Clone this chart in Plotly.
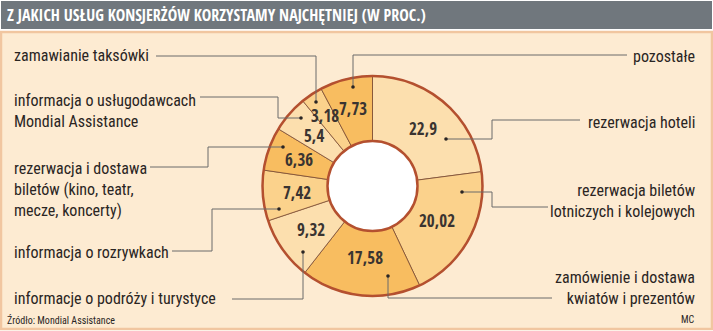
import math
import plotly.graph_objects as go

# ---------------- data ----------------
categories = [
    "rezerwacja hoteli",
    "rezerwacja biletów lotniczych i kolejowych",
    "zamówienie i dostawa kwiatów i prezentów",
    "informacje o podróży i turystyce",
    "informacja o rozrywkach",
    "rezerwacja i dostawa biletów (kino, teatr, mecze, koncerty)",
    "informacja o usługodawcach Mondial Assistance",
    "zamawianie taksówki",
    "pozostałe",
]
values = [22.9, 20.02, 17.58, 9.32, 7.42, 6.36, 5.4, 3.18, 7.73]
display_labels = [
    "rezerwacja hoteli",
    "rezerwacja biletów<br>lotniczych i kolejowych",
    "zamówienie i dostawa<br>kwiatów i prezentów",
    "informacje o podróży i turystyce",
    "informacja o rozrywkach",
    "rezerwacja i dostawa<br>biletów (kino, teatr,<br>mecze, koncerty)",
    "informacja o usługodawcach<br>Mondial Assistance",
    "zamawianie taksówki",
    "pozostałe",
]
title_text = "Z JAKICH USŁUG KONSJERŻÓW KORZYSTAMY NAJCHĘTNIEJ (W PROC.)"
source_text = "Źródło: Mondial Assistance"
author_text = "MC"

# ---------------- style / layout ----------------
W, H = 713, 331
CX, CY, R_OUT, R_IN = 372.5, 186.0, 110.0, 45.0
LIGHT, MID, DARK = "#FCDFAE", "#FBD28C", "#F8BD60"
slice_colors = [LIGHT, MID, DARK, LIGHT, MID, DARK, LIGHT, MID, DARK]
value_label_r = [76, 73, 72, 75, 76, 78, 77, 85, 80]
BG = "#FDEBD2"
FONT_B = "Open Sans Condensed, Roboto Condensed, DejaVu Sans Condensed, sans-serif"
FONT = "Roboto Condensed, DejaVu Sans Condensed, sans-serif"
TXT = "#2a2523"
LEAD = "#6a6a6a"

# label anchor: (x, y, xanchor), and leader polyline points (pixels)
label_pos = [
    (697, 122, "right"),
    (697, 201, "right"),
    (697, 288, "right"),
    (12, 298, "left"),
    (12, 252, "left"),
    (12, 189, "left"),
    (12, 111, "left"),
    (12, 55, "left"),
    (697, 56, "right"),
]
leaders = [
    [(580, 120), (492, 120), (492, 139), (446, 139)],
    [(548, 207), (492, 207), (492, 192), (462, 192)],
    [(552, 298), (388, 298), (388, 276)],
    [(232, 299), (303, 299), (303, 252)],
    [(172, 251), (212, 251), (212, 209), (279, 209)],
    [(150, 167), (208, 167), (208, 147), (283, 147)],
    [(200, 97), (278, 97), (278, 118), (301, 118)],
    [(156, 56), (316, 56), (316, 102)],
    [(627, 55), (353, 55), (353, 87)],
]

fig = go.Figure()

# pie (donut) placed so its centre / radius land on CX, CY, R_OUT
dom_x = [(CX - R_OUT) / W, (CX + R_OUT) / W]
dom_y = [(H - CY - R_OUT) / H, (H - CY + R_OUT) / H]
fig.add_trace(go.Pie(
    labels=categories, values=values, sort=False, direction="clockwise",
    rotation=0, hole=R_IN / R_OUT, domain=dict(x=dom_x, y=dom_y),
    marker=dict(colors=slice_colors, line=dict(color="#7a4a32", width=0.8)),
    textinfo="none", hoverinfo="label+value", showlegend=False,
))

# invisible cartesian trace to establish pixel axes
fig.add_trace(go.Scatter(x=[0, W], y=[0, H], mode="markers",
                         marker=dict(opacity=0), hoverinfo="skip", showlegend=False))

shapes = []
# panel & title bar
shapes.append(dict(type="rect", xref="x", yref="y", x0=1, y0=32, x1=W - 1, y1=H - 2,
                   fillcolor=BG, line=dict(color="#F1C6A0", width=2.5), layer="below"))
shapes.append(dict(type="rect", xref="x", yref="y", x0=1, y0=1, x1=W - 1, y1=29,
                   fillcolor="#70777D", line=dict(width=0), layer="below"))
# ring outlines
shapes.append(dict(type="circle", xref="x", yref="y", x0=CX - R_OUT, x1=CX + R_OUT,
                   y0=CY - R_OUT, y1=CY + R_OUT, line=dict(color="#B4502F", width=2.5),
                   fillcolor="rgba(0,0,0,0)", layer="above"))
shapes.append(dict(type="circle", xref="x", yref="y", x0=CX - R_IN, x1=CX + R_IN,
                   y0=CY - R_IN, y1=CY + R_IN, line=dict(color="#B4502F", width=2.5),
                   fillcolor="white", layer="above"))
# leaders and dots
for pts in leaders:
    path = "M " + " L ".join(f"{x},{y}" for x, y in pts)
    shapes.append(dict(type="path", xref="x", yref="y", path=path,
                       line=dict(color=LEAD, width=1), layer="above"))
    ex, ey = pts[-1]
    shapes.append(dict(type="circle", xref="x", yref="y", x0=ex - 1.8, x1=ex + 1.8,
                       y0=ey - 1.8, y1=ey + 1.8, fillcolor="#2a2523",
                       line=dict(width=0), layer="above"))

annotations = []
annotations.append(dict(x=5, y=15, xref="x", yref="y", text=f"<b>{title_text}</b>",
                        showarrow=False, xanchor="left", yanchor="middle",
                        font=dict(family=FONT_B, size=16, color="white")))
for (x, y, xa), txt in zip(label_pos, display_labels):
    annotations.append(dict(x=x, y=y, xref="x", yref="y", text=txt, showarrow=False,
                            xanchor=xa, yanchor="middle", align=xa,
                            font=dict(family=FONT, size=16, color=TXT)))
# value labels at slice mid-angles
total = sum(values)
cum = 0.0
for v, rr in zip(values, value_label_r):
    mid = (cum + v / 2) / total * 2 * math.pi
    cum += v
    x = CX + rr * math.sin(mid)
    y = CY - rr * math.cos(mid)
    annotations.append(dict(x=x, y=y, xref="x", yref="y",
                            text=f"<b>{str(v).replace('.', ',')}</b>", showarrow=False,
                            xanchor="center", yanchor="middle",
                            font=dict(family=FONT_B, size=17, color="#3a3431")))
annotations.append(dict(x=5, y=320, xref="x", yref="y", text=source_text, showarrow=False,
                        xanchor="left", yanchor="middle",
                        font=dict(family=FONT, size=10, color=TXT)))
annotations.append(dict(x=697, y=319, xref="x", yref="y", text=author_text, showarrow=False,
                        xanchor="right", yanchor="middle",
                        font=dict(family=FONT, size=10, color=TXT)))

fig.update_layout(
    width=W, height=H, margin=dict(l=0, r=0, t=0, b=0),
    paper_bgcolor="white", plot_bgcolor="rgba(0,0,0,0)",
    xaxis=dict(range=[0, W], visible=False, fixedrange=True),
    yaxis=dict(range=[H, 0], visible=False, fixedrange=True),
    shapes=shapes, annotations=annotations, showlegend=False,
)

fig.write_html("out.html")
